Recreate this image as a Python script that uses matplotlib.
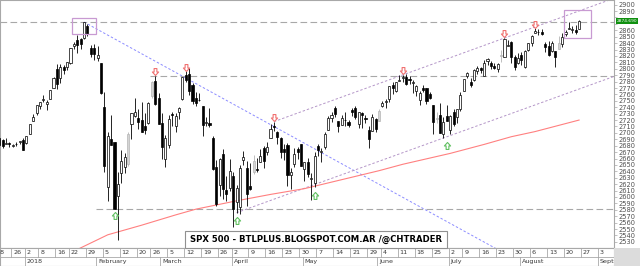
import numpy as np
import pandas as pd
import matplotlib
matplotlib.use('Agg')
import matplotlib.pyplot as plt
import matplotlib.transforms as mtrans
from matplotlib.path import Path
from matplotlib.patches import Rectangle

# trading days, Dec 18 2017 .. Aug 24 2018 (+ empty weekdays up to Sep 7)
holidays = ['2017-12-25', '2018-01-01', '2018-01-15', '2018-02-19',
            '2018-03-30', '2018-05-28', '2018-07-04']

# OHLC, one line per month (Dec, Jan, Feb, Mar, Apr, May, Jun, Jul, Aug)
opens = [
    2685.9, 2692.7, 2688.2, 2683.0, 2684.2, 2679.1, 2682.1, 2686.1, 2689.2,
    2683.7, 2697.9, 2719.3, 2731.3, 2742.7, 2751.2, 2745.6, 2753.0, 2770.2, 2799.0, 2785.0, 2802.4, 2802.6, 2809.2, 2835.1, 2845.4, 2846.2, 2847.5, 2867.2, 2832.7, 2832.4,
    2816.5, 2808.9, 2741.1, 2614.8, 2691.0, 2685.0, 2601.8, 2636.8, 2646.3, 2651.2, 2713.5, 2727.1, 2723.0, 2720.5, 2710.4, 2715.8, 2757.4, 2780.5, 2753.8,
    2715.2, 2658.9, 2681.1, 2730.2, 2710.2, 2732.8, 2752.9, 2790.5, 2792.3, 2774.1, 2754.3, 2750.6, 2741.4, 2715.1, 2715.0, 2691.4, 2646.7, 2619.4, 2667.6, 2611.3, 2614.4,
    2633.5, 2592.2, 2584.0, 2657.4, 2645.8, 2617.2, 2638.4, 2643.6, 2653.8, 2676.9, 2670.1, 2692.7, 2710.1, 2701.2, 2692.6, 2675.4, 2680.8, 2634.9, 2651.7, 2675.5, 2682.5,
    2643.0, 2654.2, 2628.1, 2621.5, 2680.3, 2670.3, 2678.1, 2705.0, 2722.7, 2738.5, 2718.6, 2712.6, 2719.7, 2717.4, 2735.4, 2738.3, 2714.0, 2730.9, 2723.6, 2705.1, 2702.4, 2721.0,
    2718.7, 2741.7, 2748.5, 2753.3, 2774.8, 2765.8, 2780.2, 2785.6, 2787.9, 2783.2, 2777.8, 2765.8, 2752.0, 2769.7, 2769.3, 2760.8, 2742.9, 2722.1, 2728.5, 2698.7, 2727.1,
    2705.0, 2733.3, 2724.2, 2737.7, 2765.8, 2788.6, 2779.8, 2783.1, 2796.9, 2801.0, 2789.3, 2811.4, 2809.4, 2804.6, 2799.2, 2820.7, 2817.7, 2835.5, 2842.4, 2819.0, 2809.7,
    2821.2, 2802.6, 2829.6, 2840.3, 2855.9, 2856.8, 2857.2, 2838.9, 2835.5, 2827.9, 2828.0, 2831.4, 2838.3, 2853.9, 2861.5, 2861.0, 2860.3, 2862.4,
]
highs = [
    2695.0, 2694.4, 2691.0, 2692.6, 2685.4, 2682.7, 2685.6, 2687.7, 2692.1,
    2695.9, 2714.4, 2729.3, 2743.5, 2748.5, 2759.1, 2750.8, 2767.6, 2787.9, 2807.5, 2807.0, 2805.8, 2810.3, 2833.0, 2842.2, 2853.0, 2848.6, 2872.9, 2870.6, 2837.8, 2839.3,
    2836.0, 2808.9, 2763.4, 2701.0, 2727.7, 2685.3, 2638.7, 2672.6, 2668.8, 2702.1, 2731.5, 2754.4, 2737.6, 2747.8, 2731.3, 2747.8, 2780.6, 2789.2, 2761.5,
    2730.9, 2696.3, 2728.1, 2732.1, 2730.6, 2740.5, 2786.6, 2797.0, 2801.9, 2777.1, 2763.0, 2761.9, 2741.4, 2724.2, 2739.1, 2695.7, 2657.7, 2661.4, 2674.8, 2632.7, 2659.1,
    2638.3, 2619.1, 2649.9, 2672.1, 2656.9, 2653.6, 2665.5, 2661.4, 2674.7, 2680.3, 2686.5, 2713.3, 2717.5, 2702.8, 2693.9, 2682.9, 2683.6, 2645.3, 2676.5, 2677.4, 2682.9,
    2655.3, 2660.9, 2637.1, 2670.9, 2683.4, 2676.3, 2701.3, 2726.1, 2732.9, 2742.1, 2718.6, 2727.8, 2732.0, 2719.5, 2739.2, 2742.2, 2733.3, 2732.0, 2727.4, 2710.7, 2729.3, 2722.5,
    2736.9, 2749.2, 2752.6, 2772.4, 2779.9, 2779.4, 2790.2, 2789.8, 2791.5, 2789.1, 2782.8, 2775.0, 2765.1, 2774.9, 2769.3, 2764.2, 2742.9, 2732.9, 2746.1, 2724.3, 2743.3,
    2727.3, 2736.6, 2737.8, 2764.4, 2784.7, 2795.6, 2785.9, 2799.2, 2804.5, 2803.4, 2814.2, 2816.8, 2812.1, 2809.7, 2808.6, 2830.0, 2848.0, 2845.6, 2843.2, 2821.7, 2824.5,
    2825.8, 2829.9, 2840.4, 2853.3, 2863.4, 2862.4, 2862.5, 2842.2, 2843.4, 2843.1, 2828.0, 2850.5, 2855.6, 2859.8, 2873.2, 2867.5, 2868.8, 2876.2,
]
lows = [
    2685.9, 2680.7, 2676.1, 2682.4, 2678.1, 2678.0, 2678.9, 2682.7, 2673.6,
    2682.4, 2697.8, 2719.1, 2727.9, 2737.6, 2747.9, 2736.1, 2752.8, 2769.6, 2768.6, 2778.4, 2792.6, 2798.1, 2808.1, 2830.6, 2824.8, 2830.9, 2846.2, 2851.5, 2818.3, 2813.0,
    2812.7, 2760.0, 2638.2, 2593.1, 2681.3, 2580.6, 2532.7, 2622.5, 2637.1, 2648.9, 2689.8, 2725.1, 2706.8, 2701.3, 2697.8, 2713.7, 2753.8, 2744.2, 2713.5,
    2659.7, 2647.3, 2675.8, 2711.3, 2701.7, 2721.9, 2751.5, 2779.3, 2758.7, 2744.4, 2741.5, 2750.0, 2694.6, 2710.1, 2709.8, 2641.6, 2585.9, 2601.8, 2596.1, 2593.1, 2609.7,
    2553.8, 2575.5, 2573.6, 2649.6, 2586.3, 2610.8, 2635.8, 2639.3, 2653.8, 2645.1, 2665.2, 2692.1, 2703.6, 2681.9, 2660.6, 2658.0, 2617.3, 2612.7, 2647.2, 2659.0, 2648.0,
    2625.4, 2631.7, 2594.6, 2615.3, 2664.7, 2655.2, 2674.1, 2704.5, 2717.5, 2725.5, 2701.9, 2712.2, 2711.4, 2709.2, 2725.7, 2721.9, 2707.4, 2707.4, 2715.0, 2676.8, 2702.4, 2700.7,
    2718.7, 2740.5, 2739.5, 2748.5, 2760.2, 2763.6, 2780.2, 2778.8, 2774.7, 2776.5, 2761.7, 2757.1, 2743.2, 2763.9, 2744.4, 2752.7, 2698.7, 2715.6, 2699.4, 2692.0, 2718.0,
    2699.0, 2711.2, 2716.0, 2733.5, 2765.8, 2786.2, 2770.8, 2781.5, 2791.7, 2793.4, 2789.2, 2805.9, 2799.8, 2800.0, 2795.1, 2811.1, 2817.7, 2835.3, 2808.3, 2798.1, 2808.1,
    2805.9, 2801.4, 2827.4, 2836.0, 2855.9, 2853.1, 2852.0, 2825.8, 2819.9, 2826.6, 2802.5, 2831.4, 2833.7, 2850.6, 2861.3, 2856.1, 2854.0, 2862.4,
]
closes = [
    2690.2, 2681.5, 2679.3, 2684.6, 2683.3, 2680.5, 2682.6, 2687.5, 2673.6,
    2695.8, 2713.1, 2724.0, 2743.2, 2747.7, 2751.3, 2748.2, 2767.6, 2786.2, 2776.4, 2802.6, 2798.0, 2810.3, 2833.0, 2839.1, 2837.5, 2839.3, 2872.9, 2853.5, 2822.4, 2823.8,
    2822.0, 2762.1, 2648.9, 2695.1, 2681.7, 2581.0, 2619.6, 2656.0, 2662.9, 2698.6, 2731.2, 2732.2, 2716.3, 2701.3, 2704.0, 2747.3, 2779.6, 2744.3, 2713.8,
    2677.7, 2691.3, 2720.9, 2728.1, 2726.8, 2739.0, 2786.6, 2783.0, 2765.3, 2749.5, 2747.3, 2752.0, 2712.9, 2716.9, 2711.9, 2643.7, 2588.3, 2658.6, 2612.6, 2605.0, 2640.9,
    2581.9, 2614.5, 2644.7, 2662.8, 2604.5, 2613.2, 2656.9, 2642.2, 2664.0, 2656.3, 2677.8, 2706.4, 2708.6, 2693.1, 2670.1, 2670.3, 2634.6, 2639.4, 2666.9, 2669.9, 2648.1,
    2654.8, 2635.7, 2629.7, 2663.4, 2672.6, 2671.9, 2697.8, 2723.1, 2727.7, 2730.1, 2711.5, 2722.5, 2720.1, 2713.0, 2733.0, 2724.4, 2733.3, 2727.8, 2721.3, 2689.9, 2724.0, 2705.3,
    2734.6, 2746.9, 2748.8, 2772.4, 2770.4, 2779.0, 2782.0, 2786.9, 2775.6, 2782.5, 2779.7, 2773.8, 2762.6, 2767.3, 2749.8, 2754.9, 2717.1, 2723.1, 2699.6, 2716.3, 2718.4,
    2726.7, 2713.2, 2736.6, 2759.8, 2784.2, 2793.8, 2774.0, 2798.3, 2801.3, 2798.4, 2809.6, 2815.6, 2804.5, 2801.8, 2807.0, 2820.4, 2846.1, 2837.4, 2818.8, 2802.6, 2816.3,
    2813.4, 2827.2, 2840.4, 2850.4, 2858.5, 2857.7, 2853.6, 2833.3, 2821.9, 2840.0, 2818.4, 2840.7, 2850.1, 2857.1, 2863.0, 2861.8, 2857.0, 2874.7,
]
grey_days = ['2018-02-14', '2018-02-26', '2018-04-10', '2018-06-01',
             '2018-06-26', '2018-07-24', '2018-08-16']

# media movil (linea roja)
sma_dates = ['2018-01-24', '2018-02-06', '2018-02-21', '2018-03-07', '2018-03-15',
             '2018-04-03', '2018-04-17', '2018-05-01', '2018-05-16', '2018-06-01',
             '2018-06-12', '2018-07-02', '2018-07-17', '2018-07-27', '2018-08-07',
             '2018-08-24']
sma_vals = [2518, 2541, 2556, 2572, 2581, 2594, 2604, 2613, 2627, 2641,
            2651, 2668, 2682, 2694, 2702, 2720]

# niveles horizontales (precio, desde)
h_levels = [2872.9, 2789.2, 2581.0]
h_starts = ['2017-12-18', '2018-02-26', '2018-02-01']
# tendencias: dos puntos de anclaje (fecha, precio)
blue_line = [('2018-01-26', 2872.9), ('2018-04-18', 2710.0)]
chan_up = [('2018-04-18', 2717.5), ('2018-07-25', 2848.0)]
chan_dn = [('2018-04-03', 2575.5), ('2018-06-28', 2692.0)]

red_arrows = [('2018-02-27', 2790.5), ('2018-03-12', 2796.0), ('2018-04-18', 2718.0),
              ('2018-06-12', 2791.5), ('2018-07-25', 2849.0), ('2018-08-07', 2864.0)]
green_arrows = [('2018-02-08', 2577.0), ('2018-04-03', 2569.0), ('2018-05-04', 2608.0),
                ('2018-06-29', 2686.0)]
boxes = [('2018-01-23', '2018-01-31', 2854.3, 2879.3),
         ('2018-08-20', '2018-08-29', 2847.6, 2891.7)]
last_price = 2874.690
title = 'SPX 500 - BTLPLUS.BLOGSPOT.COM.AR /@CHTRADER'

days = pd.bdate_range('2017-12-18', '2018-09-07')
days = days[~days.isin(pd.to_datetime(holidays))]
pos = {d: i for i, d in enumerate(days)}


def xi(s):
    return pos[pd.Timestamp(s)]


n = len(opens)
idx = np.arange(n)
o, h, l, c = map(np.array, (opens, highs, lows, closes))

XMIN, XMAX = 1.22, 182.3
YMIN, YMAX = 2520.4, 2907.3
GRID = '#a8a8a8'

fig = plt.figure(figsize=(6.4, 2.66), dpi=100)
ax = fig.add_axes([0, 18 / 266, 614 / 640, 248 / 266])
ax.set_xlim(XMIN, XMAX)
ax.set_ylim(YMIN, YMAX)

# velas
is_grey = np.isin(days[:n], pd.to_datetime(grey_days))
face = np.where(is_grey, '#d4d4d4', np.where(c >= o, 'white', 'black'))
edge = np.where(is_grey, '#b4b4b4', 'black')
ax.vlines(idx, l, h, colors=edge, lw=0.6, zorder=3)
body = np.maximum(np.abs(c - o), 0.9)
ax.bar(idx, body, bottom=np.minimum(o, c), width=0.62, color=face,
       edgecolor=edge, linewidth=0.5, zorder=4)

# lineas horizontales
for lev, st in zip(h_levels, h_starts):
    ax.plot([max(xi(st) - 0.5, XMIN), XMAX], [lev, lev], color=GRID, lw=0.8,
            dashes=(6, 3), zorder=2)


def trend(anchors, color):
    (d0, p0), (d1, p1) = anchors
    x0, x1 = xi(d0), xi(d1)
    k = (p1 - p0) / (x1 - x0)
    xs = np.array([x0, XMAX])
    ax.plot(xs, p0 + k * (xs - x0), color=color, lw=0.7, dashes=(2.5, 2), zorder=2)


trend(blue_line, '#8c8cff')
trend(chan_up, '#b496c8')
trend(chan_dn, '#b496c8')

# media movil
ax.plot([xi(d) for d in sma_dates], sma_vals, color='#ff8080', lw=0.8, zorder=2)

# flechas
down = Path([(0, 0), (0.45, 0.5), (0.2, 0.5), (0.2, 1), (-0.2, 1), (-0.2, 0.5),
             (-0.45, 0.5), (0, 0)], closed=True)
up = Path([(0, 0), (0.45, -0.5), (0.2, -0.5), (0.2, -1), (-0.2, -1), (-0.2, -0.5),
           (-0.45, -0.5), (0, 0)], closed=True)
for d, p in red_arrows:
    ax.plot(xi(d), p, marker=down, ms=10, mfc='white', mec='#f07070', mew=0.8, zorder=6)
for d, p in green_arrows:
    ax.plot(xi(d), p, marker=up, ms=10, mfc='white', mec='#60c060', mew=0.8, zorder=6)

for d0, d1, p0, p1 in boxes:
    ax.add_patch(Rectangle((xi(d0) - 0.5, p0), xi(d1) - xi(d0) + 1, p1 - p0,
                           fill=False, edgecolor='#c89ad2', lw=0.9, zorder=5))

# ejes
for sp in ax.spines.values():
    sp.set_color(GRID)
    sp.set_linewidth(0.8)
ax.set_xticks([])
ax.yaxis.tick_right()
yt = np.arange(2530, 2901, 10)
ax.set_yticks(yt)
ax.set_yticklabels(['' if v in (2870, 2880) else str(v) for v in yt])
ax.tick_params(axis='y', labelsize=4.8, labelcolor='#505050', color=GRID,
               length=2, width=0.5, pad=1.5)
tr = mtrans.blended_transform_factory(ax.transAxes, ax.transData)
lp = ax.text(1.004, last_price, f'{last_price:.3f}', transform=tr, ha='left', va='center',
             fontsize=4.4, color='white', clip_on=False,
             family=['Liberation Sans Narrow', 'DejaVu Sans'],
             bbox=dict(boxstyle='square,pad=0.15', fc='#109010', ec='none'))

# tira de fechas
axd = fig.add_axes([0, 0, 614 / 640, 18 / 266])
axd.set_xlim(XMIN, XMAX)
axd.set_ylim(0, 2)
axd.set_xticks([])
axd.set_yticks([])
for sp in axd.spines.values():
    sp.set_color(GRID)
    sp.set_linewidth(0.8)
axd.axhline(1, color=GRID, lw=0.6)
week = days - pd.to_timedelta(days.weekday, unit='D')
month_names = {1: '2018', 2: 'February', 3: 'March', 4: 'April', 5: 'May', 6: 'June',
               7: 'July', 8: 'August', 9: 'September'}
for i, d in enumerate(days):
    if i == 0 or week[i] != week[i - 1]:
        axd.plot([i - 0.5, i - 0.5], [1, 2], color=GRID, lw=0.6)
        axd.text(i + 0.1, 1.5, str(d.day), fontsize=4.6, color='#383838',
                 va='center', ha='left', clip_on=True)
    if i > 0 and d.month != days[i - 1].month:
        axd.plot([i - 0.5, i - 0.5], [0, 1], color=GRID, lw=0.6)
        axd.text(i + 0.1, 0.5, month_names[d.month], fontsize=4.6, color='#383838',
                 va='center', ha='left', clip_on=True)
fig.add_artist(Rectangle((614 / 640, 0), 26 / 640, 18 / 266, transform=fig.transFigure,
                         fc='#dcdcdc', ec='none', zorder=5))

# titulo
fig.add_artist(Rectangle((185 / 640, 18 / 266), 262 / 640, 17 / 266, transform=fig.transFigure,
                         fc='white', ec='#909090', lw=0.8, zorder=7))
t = fig.text(316 / 640, 26.5 / 266, title, ha='center', va='center', fontsize=8.3,
             fontweight='bold', family=['Liberation Sans Narrow', 'DejaVu Sans'],
             color='black', zorder=8)
fig.canvas.draw()
w = t.get_window_extent().width
if w > 254:
    t.set_fontsize(8.3 * 252 / w)
# la etiqueta del ultimo precio debe caber en la franja derecha
w = lp.get_window_extent().width
if w > 21:
    lp.set_fontsize(4.4 * 21 / w)

fig.savefig('out.png', dpi=100)
